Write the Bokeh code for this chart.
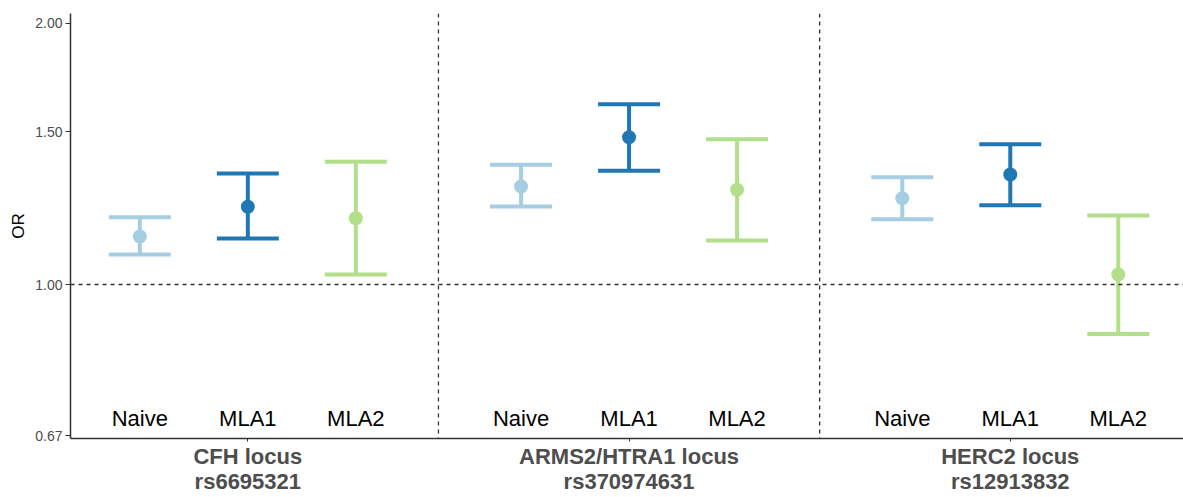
from bokeh.plotting import figure
from bokeh.models import Range1d, FixedTicker, CustomJSTickFormatter, Span, ColumnDataSource
from bokeh.core.properties import value
from bokeh.embed import file_html
from bokeh.resources import INLINE

# ---- data ----
groups = ["CFH locus\nrs6695321", "ARMS2/HTRA1 locus\nrs370974631", "HERC2 locus\nrs12913832"]
models = ["Naive", "MLA1", "MLA2"]
colors = ["#A6CEE3", "#1F78B4", "#B2DF8A"]

or_cfh = [1.136, 1.229, 1.192]
lo_cfh = [1.083, 1.130, 1.027]
hi_cfh = [1.195, 1.342, 1.385]

or_arms = [1.297, 1.478, 1.286]
lo_arms = [1.230, 1.352, 1.124]
hi_arms = [1.374, 1.613, 1.470]

or_herc = [1.257, 1.339, 1.027]
lo_herc = [1.189, 1.234, 0.877]
hi_herc = [1.329, 1.451, 1.201]

y_ticks = [0.67, 1.0, 1.5, 2.0]

# ---- layout constants ----
GROUP_STEP = 3.53
CAP_HALF = 0.287
LABEL_Y = 0.7

ors = [or_cfh, or_arms, or_herc]
los = [lo_cfh, lo_arms, lo_herc]
his = [hi_cfh, hi_arms, hi_herc]

xs, ys, lo, hi, cols, names = [], [], [], [], [], []
for g in range(len(groups)):
    for k in range(len(models)):
        xs.append(g * GROUP_STEP + k)
        ys.append(ors[g][k])
        lo.append(los[g][k])
        hi.append(his[g][k])
        cols.append(colors[k])
        names.append(models[k])

src = ColumnDataSource(dict(
    x=xs, y=ys, lo=lo, hi=hi, color=cols, name=names,
    x0=[v - CAP_HALF for v in xs], x1=[v + CAP_HALF for v in xs],
    ly=[LABEL_Y] * len(xs),
))

p = figure(width=1183, height=497, output_backend="svg", toolbar_location=None,
           y_axis_type="log",
           x_range=Range1d(-0.642, 9.664), y_range=Range1d(0.6647, 2.052),
           min_border_left=70, min_border_right=0, min_border_top=13, min_border_bottom=59)
p.outline_line_color = None
p.xgrid.visible = False
p.ygrid.visible = False
p.background_fill_color = "white"
p.border_fill_color = "white"

# reference lines
p.add_layout(Span(location=1.0, dimension="width", line_color="#333333",
                  line_width=1.3, line_dash="4 4"))
for g in range(len(groups) - 1):
    mid = (g * GROUP_STEP + 2 + (g + 1) * GROUP_STEP) / 2
    p.add_layout(Span(location=mid, dimension="height", line_color="#333333",
                      line_width=1.3, line_dash="4 4"))

# error bars
p.segment(x0="x", y0="lo", x1="x", y1="hi", source=src, line_color="color",
          line_width=4, line_cap="butt")
p.segment(x0="x0", y0="lo", x1="x1", y1="lo", source=src, line_color="color",
          line_width=4, line_cap="butt")
p.segment(x0="x0", y0="hi", x1="x1", y1="hi", source=src, line_color="color",
          line_width=4, line_cap="butt")
p.scatter(x="x", y="y", source=src, size=14, fill_color="color", line_color=None)

# model labels
p.text(x="x", y="ly", text="name", source=src, text_align="center",
       text_baseline="middle", text_font=value("Liberation Sans"),
       text_font_size="22px", text_color="black")

# y axis
p.yaxis.ticker = FixedTicker(ticks=y_ticks)
p.yaxis.formatter = CustomJSTickFormatter(code="return tick.toFixed(2);")
p.yaxis.axis_label = "OR"
p.yaxis.axis_label_text_font = "Liberation Sans"
p.yaxis.axis_label_text_font_style = "normal"
p.yaxis.axis_label_text_font_size = "17px"
p.yaxis.axis_label_text_color = "black"
p.yaxis.axis_label_standoff = 4
p.yaxis.major_label_text_font = "Liberation Sans"
p.yaxis.major_label_text_font_size = "14px"
p.yaxis.major_label_text_color = "#4D4D4D"
p.yaxis.major_label_standoff = 3
p.yaxis.major_tick_out = 5
p.yaxis.major_tick_in = 0
p.yaxis.minor_tick_out = 0
p.yaxis.minor_tick_in = 0
p.yaxis.axis_line_color = "#333333"
p.yaxis.axis_line_width = 1.5
p.yaxis.major_tick_line_color = "#333333"

# x axis
centers = [g * GROUP_STEP + 1 for g in range(len(groups))]
p.xaxis.ticker = FixedTicker(ticks=centers)
p.xaxis.major_label_overrides = {c: lab for c, lab in zip(centers, groups)}
p.xaxis.major_label_text_font = "Liberation Sans"
p.xaxis.major_label_text_font_style = "bold"
p.xaxis.major_label_text_font_size = "22px"
p.xaxis.major_label_text_color = "#4D4D4D"
p.xaxis.major_label_text_line_height = 1.0
p.xaxis.major_label_standoff = 2
p.xaxis.major_tick_out = 3
p.xaxis.major_tick_in = 0
p.xaxis.minor_tick_out = 0
p.xaxis.minor_tick_in = 0
p.xaxis.axis_line_color = "#333333"
p.xaxis.axis_line_width = 1.5
p.xaxis.major_tick_line_color = "#333333"

open("out.html", "w").write(file_html(p, INLINE))
